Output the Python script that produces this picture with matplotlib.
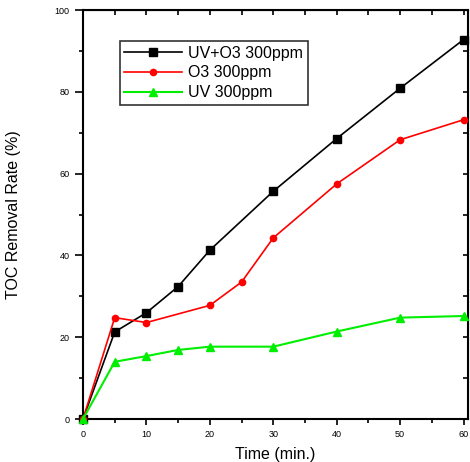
import matplotlib
matplotlib.use("Agg")
import matplotlib.pyplot as plt
from matplotlib.ticker import MultipleLocator

plt.rcParams["font.family"] = ["Liberation Sans", "DejaVu Sans"]

# data
t_uvo3 = [0, 5, 10, 15, 20, 30, 40, 50, 60]
uvo3 = [0, 21.3, 26.0, 32.4, 41.3, 55.7, 68.6, 80.9, 92.8]

t_o3 = [0, 5, 10, 20, 25, 30, 40, 50, 60]
o3 = [0, 24.8, 23.6, 27.8, 33.5, 44.3, 57.5, 68.3, 73.2]

t_uv = [0, 5, 10, 15, 20, 30, 40, 50, 60]
uv = [0, 14.0, 15.4, 16.9, 17.7, 17.7, 21.4, 24.8, 25.2]

labels = ["UV+O3 300ppm", "O3 300ppm", "UV 300ppm"]

fig = plt.figure(figsize=(4.7, 4.62), dpi=100)
ax = fig.add_axes([0.1766, 0.093, 0.8191, 0.885])

ax.plot(t_uvo3, uvo3, color="black", marker="s", markersize=5.5, lw=1.2,
        label=labels[0], clip_on=False, zorder=3)
ax.plot(t_o3, o3, color="red", marker="o", markersize=4.5, lw=1.2,
        label=labels[1], clip_on=False, zorder=3)
ax.plot(t_uv, uv, color="#00ee00", marker="^", markersize=6, lw=1.5,
        label=labels[2], clip_on=False, zorder=3)

ax.set_xlim(0, 60.7)
ax.set_ylim(0, 100)
ax.xaxis.set_major_locator(MultipleLocator(10))
ax.xaxis.set_minor_locator(MultipleLocator(5))
ax.yaxis.set_major_locator(MultipleLocator(20))
ax.yaxis.set_minor_locator(MultipleLocator(10))

ax.tick_params(which="both", direction="out", width=1.2, labelsize=6.5,
               top=False, right=False)
ax.tick_params(axis="y", which="major", length=5.5, pad=4)
ax.tick_params(axis="y", which="minor", length=3)
ax.tick_params(axis="x", which="major", length=4, pad=4)
ax.tick_params(axis="x", which="minor", length=3)
for sp in ax.spines.values():
    sp.set_linewidth(1.5)

# inside ticks on top/right like the original
ax2 = ax.secondary_xaxis("top")
ax2.xaxis.set_major_locator(MultipleLocator(5))
ax2.tick_params(direction="in", length=3.5, width=1.2, labeltop=False)
ax3 = ax.secondary_yaxis("right")
ax3.yaxis.set_major_locator(MultipleLocator(10))
ax3.tick_params(direction="in", length=3.5, width=1.2, labelright=False)

ax.set_xlabel("Time (min.)", fontsize=11.5)
ax.xaxis.set_label_coords(0.5, -0.068)
ax.set_ylabel("TOC Removal Rate (%)", fontsize=11.5)
ax.yaxis.set_label_coords(-0.16, 0.5)

leg = ax.legend(loc="upper left", bbox_to_anchor=(0.095, 0.925), fontsize=11.5,
                frameon=True, fancybox=False, edgecolor="black",
                handlelength=3.6, borderpad=0.3, labelspacing=0.3,
                handletextpad=0.4, borderaxespad=0)
leg.get_frame().set_linewidth(1.2)

fig.savefig("out.png", dpi=100)
